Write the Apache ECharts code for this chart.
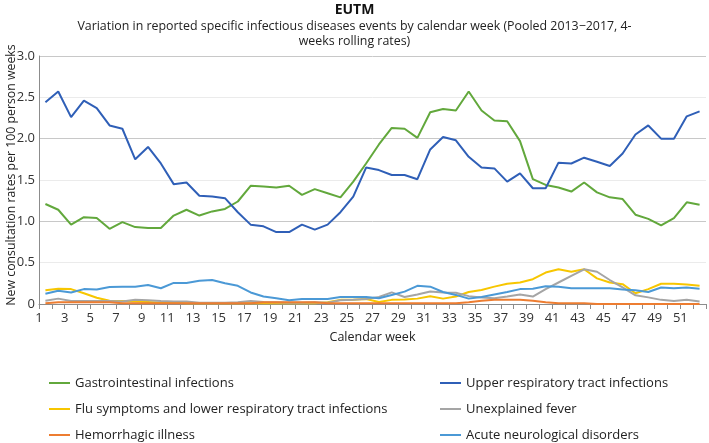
<!DOCTYPE html>
<html>
<head>
<meta charset="utf-8">
<script src="https://cdn.jsdelivr.net/npm/echarts@6/dist/echarts.min.js"></script>
<style>
html,body{margin:0;padding:0;background:#fff;}
#chart{width:709px;height:443px;}
</style>
</head>
<body>
<div id="chart"></div>
<script>
const weeks = ['1','2','3','4','5','6','7','8','9','10','11','12','13','14','15','16','17','18','19','20','21','22','23','24','25','26','27','28','29','30','31','32','33','34','35','36','37','38','39','40','41','42','43','44','45','46','47','48','49','50','51','52'];
const weekTickLabels = ['1','2','3','4','5','6','7','8','9','10','11','12','13','14','15','16','17','18','19','20','21','22','23','24','25','26','27','28','29','30','31','32','33','34','35','36','37','38','39','40','41','42','43','44','45','46','47','48','49','50','51','52',''];

const gastro = [1.21,1.14,0.96,1.05,1.04,0.91,0.99,0.93,0.92,0.92,1.07,1.14,1.07,1.12,1.15,1.24,1.43,1.42,1.41,1.43,1.32,1.39,1.34,1.29,1.48,1.70,1.93,2.13,2.12,2.01,2.32,2.36,2.34,2.57,2.34,2.22,2.21,1.97,1.51,1.44,1.41,1.36,1.47,1.35,1.29,1.27,1.08,1.03,0.95,1.04,1.23,1.20];
const upperResp = [2.44,2.57,2.26,2.46,2.37,2.16,2.12,1.75,1.90,1.70,1.45,1.47,1.31,1.30,1.28,1.11,0.96,0.94,0.87,0.87,0.96,0.90,0.96,1.11,1.30,1.65,1.62,1.56,1.56,1.51,1.87,2.02,1.98,1.78,1.65,1.64,1.48,1.58,1.40,1.40,1.71,1.70,1.77,1.72,1.67,1.82,2.05,2.16,2.00,2.00,2.27,2.33];
const flu = [0.165,0.185,0.18,0.13,0.075,0.04,0.035,0.03,0.025,0.015,0.015,0.01,0.01,0.01,0.01,0.01,0.01,0.01,0.01,0.01,0.01,0.01,0.02,0.05,0.05,0.06,0.025,0.05,0.055,0.065,0.095,0.065,0.09,0.145,0.17,0.21,0.245,0.26,0.30,0.38,0.42,0.39,0.42,0.31,0.26,0.24,0.13,0.18,0.245,0.245,0.235,0.22];
const fever = [0.04,0.065,0.035,0.035,0.035,0.035,0.03,0.05,0.045,0.035,0.03,0.03,0.015,0.015,0.015,0.02,0.035,0.025,0.02,0.015,0.015,0.02,0.015,0.045,0.05,0.06,0.085,0.14,0.085,0.115,0.15,0.14,0.135,0.095,0.08,0.07,0.09,0.115,0.09,0.18,0.26,0.34,0.42,0.39,0.29,0.20,0.105,0.08,0.05,0.035,0.05,0.03];
const hemorrhagic = [0.01,0.02,0.02,0.02,0.02,0.02,0.01,0.01,0.01,0.01,0.01,0.01,0.01,0.01,0.01,0.01,0.01,0.02,0.02,0.02,0.02,0.02,0.01,0.01,0.01,0.01,0.01,0.01,0.01,0.01,0.01,0.01,0.01,0.02,0.04,0.05,0.05,0.05,0.04,0.02,0.01,0.01,0.01,0,0,0,0,0,0,0,0,0];
const acuteNeuro = [0.125,0.16,0.14,0.18,0.175,0.205,0.21,0.21,0.23,0.19,0.255,0.255,0.28,0.29,0.25,0.22,0.14,0.09,0.07,0.045,0.06,0.06,0.06,0.085,0.085,0.085,0.07,0.11,0.15,0.22,0.21,0.145,0.11,0.065,0.085,0.115,0.145,0.18,0.185,0.215,0.21,0.19,0.19,0.19,0.19,0.175,0.165,0.145,0.20,0.19,0.20,0.185];

const names = ['Gastrointestinal infections','Upper respiratory tract infections','Flu symptoms and lower respiratory tract infections','Unexplained fever','Hemorrhagic illness','Acute neurological disorders'];
const colors = ['#62A83C','#2F5FB7','#F7C600','#A5A5A5','#ED7D31','#4B99D6'];
const values = [gastro, upperResp, flu, fever, hemorrhagic, acuteNeuro];

const FONT = "'Open Sans', 'Noto Sans', sans-serif";
const chart = echarts.init(document.getElementById('chart'), null, {renderer:'canvas'});

const legendBase = {
  orient: 'vertical', top: 376, height: 67, padding: 0, itemGap: 12, itemWidth: 21, itemHeight: 2, icon: 'rect',
  textStyle: {fontFamily: FONT, fontSize: 13, color: '#222', lineHeight: 14},
  selectedMode: false
};
const subStyle = {fontFamily: FONT, fontSize: 12.4, fontWeight: 'normal', color: '#222'};

chart.setOption({
  animation: false,
  color: colors,
  title: [
    {text: 'EUTM', left: 'center', top: 3, padding: 0,
     textStyle: {fontFamily: FONT, fontSize: 14, fontWeight: 'bold', color: '#111'}},
    {text: 'Variation in reported specific infectious diseases events by calendar week (Pooled 2013\u22122017, 4-',
     left: 'center', top: 20, padding: 0, textStyle: subStyle},
    {text: 'weeks rolling rates)', left: 'center', top: 35, padding: 0, textStyle: subStyle}
  ],
  graphic: [{
    type: 'text', x: 11, y: 175, rotation: Math.PI / 2,
    style: {text: 'New consultation rates per 100 person weeks', font: "12.3px 'Open Sans', 'Noto Sans', sans-serif",
      fill: '#222', align: 'center', verticalAlign: 'middle'}
  }],
  legend: [
    Object.assign({}, legendBase, {left: 49, data: [names[0], names[2], names[4]]}),
    Object.assign({}, legendBase, {left: 440, data: [names[1], names[3], names[5]]})
  ],
  grid: {left: 39, right: 2, top: 56, bottom: 139, containLabel: false},
  xAxis: [{
    type: 'category', data: weeks, boundaryGap: true, position: 'bottom', offset: 0,
    name: 'Calendar week', nameLocation: 'middle', nameGap: 27,
    nameTextStyle: {fontFamily: FONT, fontSize: 12.5, color: '#222'},
    axisLine: {lineStyle: {color: '#8c8c8c', width: 1}},
    axisTick: {show: false},
    axisLabel: {show: false},
    splitLine: {show: false}
  }, {
    type: 'category', data: weekTickLabels, boundaryGap: false, position: 'bottom', offset: 0,
    axisLine: {show: false},
    axisTick: {show: true, interval: 0, length: 5, lineStyle: {color: '#8c8c8c'}},
    axisLabel: {interval: 1, margin: 8, fontFamily: FONT, fontSize: 13, color: '#333'},
    splitLine: {show: false}
  }],
  yAxis: {
    type: 'value', min: 0, max: 3, interval: 0.5,
    axisLine: {show: true, lineStyle: {color: '#8c8c8c'}},
    axisTick: {show: false},
    axisLabel: {margin: 4, fontFamily: FONT, fontSize: 13, color: '#333',
      formatter: v => v === 0 ? '0' : v.toFixed(1)},
    splitLine: {show: true, lineStyle: {color: ['#c8c8c8', '#ebebeb'], width: 1}}
  },
  series: names.map((n, i) => ({
    name: n, type: 'line', xAxisIndex: 0, data: values[i], symbol: 'none', smooth: false,
    lineStyle: {width: 2, color: colors[i]}, itemStyle: {color: colors[i]}
  }))
});
</script>
</body>
</html>
